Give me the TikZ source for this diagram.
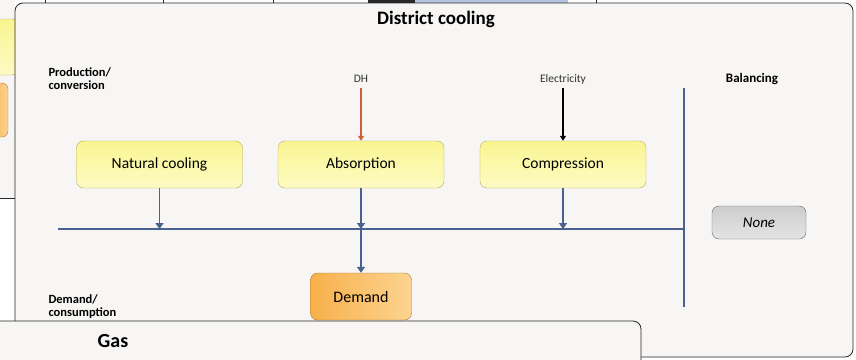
\documentclass[tikz,border=0pt]{standalone}
\usepackage{fontspec}
\setmainfont{Carlito}
\usetikzlibrary{arrows.meta}

\definecolor{panelbg}{RGB}{247,246,244}
\definecolor{panelline}{RGB}{40,40,40}
\definecolor{busblue}{RGB}{74,96,142}
\definecolor{dhred}{RGB}{205,95,60}
\definecolor{yellowtop}{RGB}{250,245,145}
\definecolor{yellowbot}{RGB}{253,251,195}
\definecolor{boxolive}{RGB}{175,168,100}
\definecolor{orangeleft}{RGB}{248,176,74}
\definecolor{orangeright}{RGB}{252,212,145}
\definecolor{boxbrown}{RGB}{170,120,60}
\definecolor{greytop}{RGB}{205,205,205}
\definecolor{greybot}{RGB}{228,228,228}
\definecolor{tabblue}{RGB}{182,196,226}

\tikzset{
	panel/.style={draw=panelline,fill=panelbg,rounded corners=8pt,line width=0.8pt},
	procbox/.style={draw=boxolive,rounded corners=7pt,top color=yellowtop,bottom color=yellowbot,minimum width=166pt,minimum height=47pt,font=\fontsize{15.5}{18}\selectfont},
	demandbox/.style={draw=boxbrown,rounded corners=7pt,left color=orangeleft,right color=orangeright,minimum width=101pt,minimum height=47pt,font=\fontsize{16}{18}\selectfont},
	balbox/.style={draw=gray!80!black,rounded corners=7pt,top color=greytop,bottom color=greybot,minimum width=94pt,minimum height=33pt,font=\fontsize{15}{18}\selectfont\itshape},
	sidelabel/.style={align=left,anchor=west,font=\fontsize{12.5}{13}\selectfont\bfseries},
	inlabel/.style={font=\fontsize{11.5}{13}\selectfont,text=black!80},
	busline/.style={busblue,line width=1.6pt},
	flow/.style={busblue,line width=1.6pt,-{Triangle[width=8pt,length=6pt]}},
}

\begin{document}
\begin{tikzpicture}[x=1pt,y=-1pt]
	\useasboundingbox (0,0) rectangle (856,359);
	\clip (0,0) rectangle (856,359);
	% windows behind
	\fill[white] (0,0) rectangle (856,359);
	\fill[panelbg] (0,0) rectangle (15,198);
	\draw[boxolive,top color=yellowtop,bottom color=yellowbot,rounded corners=6pt] (-12,19) rectangle (18,75);
	\draw[boxbrown,left color=orangeleft,right color=orangeright,rounded corners=6pt] (-12,83) rectangle (8,137);
	\draw[panelline] (0,198) -- (15,198);
	\foreach \x in {45,163,273,596}
		\draw[panelline] (\x,0) -- (\x,3);
	\fill[panelline] (368,0) rectangle (415,3);
	\fill[tabblue] (415,0) rectangle (568,3);

	% district cooling panel
	\draw[panel] (15,3) rectangle (853,357);
	\node[font=\fontsize{19}{22}\selectfont\bfseries] (title) at (436,19) {District cooling};

	\node[sidelabel] (prod) at (45,78.5) {Production/\\conversion};
	\node[sidelabel] (cons) at (45,306.5) {Demand/\\consumption};
	\node[font=\fontsize{13}{15}\selectfont\bfseries] (bal) at (752,79) {Balancing};

	\node[inlabel] (dh) at (361,79) {DH};
	\node[inlabel] (elec) at (563,79) {Electricity};

	\node[procbox] (nat) at (159.5,164.5) {Natural cooling};
	\node[procbox] (abs) at (361,164.5) {Absorption};
	\node[procbox] (comp) at (563,164.5) {Compression};

	\draw[dhred,line width=1.2pt,-{Triangle[width=6pt,length=5pt]}] (361,88) -- (abs.north);
	\draw[black,line width=1.2pt,-{Triangle[width=6pt,length=5pt]}] (563,88) -- (comp.north);

	\coordinate (busL) at (58,229);
	\coordinate (busR) at (684,229);
	\coordinate (balT) at (684,88);
	\coordinate (balB) at (684,307);
	\draw[busline] (busL) -- (busR);
	\draw[busline] (balT) -- (balB);

	\draw[flow] (nat.south) -- (nat.south |- busL);
	\draw[flow] (abs.south) -- (abs.south |- busL);
	\draw[flow] (comp.south) -- (comp.south |- busL);

	\node[demandbox] (dem) at (361,296.5) {Demand};
	\draw[flow] (abs.south |- busL) -- (dem.north);

	\node[balbox] (none) at (759,222.5) {None};

	% gas panel in front
	\draw[panel] (-20,321) rectangle (641,390);
	\node[font=\fontsize{20}{22}\selectfont\bfseries] (gas) at (113,341) {Gas};
\end{tikzpicture}
\end{document}
